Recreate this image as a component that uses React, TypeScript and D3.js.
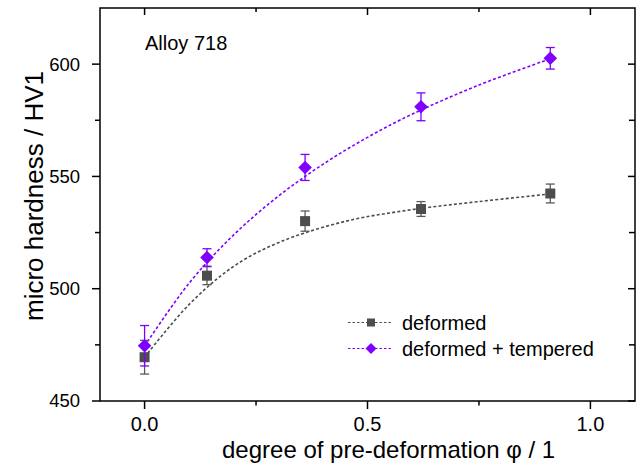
import React from "react";
import * as d3 from "d3";

// Measured micro hardness (HV1) against degree of pre-deformation
const strain = [0, 0.14, 0.36, 0.62, 0.91];
const hvDeformed = [469.5, 505.8, 530.1, 535.5, 542.4];
const errDeformed = [7.5, 4.0, 4.5, 3.3, 4.2];
const hvTempered = [474.6, 513.9, 554.0, 581.0, 602.6];
const errTempered = [9.0, 3.9, 5.8, 6.2, 4.8];

// Fitted trend curves (sampled)
const fitDeformedX = [0, 0.1, 0.2, 0.3, 0.45, 0.6, 0.75, 0.91];
const fitDeformedY = [469.5, 493, 510, 520.5, 530, 535.2, 538.8, 542.2];
const fitTemperedX = [0, 0.1, 0.2, 0.3, 0.4, 0.5, 0.6, 0.75, 0.91];
const fitTemperedY = [474.5, 502.5, 524, 541.2, 555.4, 567.4, 577.7, 590.7, 602.4];

const xMajor = [0, 0.5, 1.0];
const xMinor = [0.25, 0.75];
const yMajor = [450, 500, 550, 600];
const yMinor = [475, 525, 575];

const seriesNames = ["deformed", "deformed + tempered"];

const GREY = "#4d4d4d";
const PURPLE = "#7f00ff";
const FONT = "'Liberation Sans', Arial, sans-serif";

export default function App() {
  const W = 644;
  const H = 472;
  const left = 100, right = 635, top = 8, bottom = 401;

  const x = d3.scaleLinear().domain([-0.1, 1.1]).range([left, right]);
  const y = d3.scaleLinear().domain([450, 625]).range([bottom, top]);

  const line = d3
    .line<[number, number]>()
    .x((d) => x(d[0]))
    .y((d) => y(d[1]))
    .curve(d3.curveCatmullRom.alpha(0.5));

  const fitD = line(fitDeformedX.map((v, i) => [v, fitDeformedY[i]]) as [number, number][]) || "";
  const fitT = line(fitTemperedX.map((v, i) => [v, fitTemperedY[i]]) as [number, number][]) || "";

  const fmtX = d3.format(".1f");
  const sq = 10;
  const dia = 6.8;
  const cap = 4.5;

  const errorBars = (vals: number[], errs: number[], color: string) =>
    strain.map((s, i) => {
      const cx = x(s);
      const y1 = y(vals[i] + errs[i]);
      const y2 = y(vals[i] - errs[i]);
      return (
        <g key={i} stroke={color} strokeWidth={1.3}>
          <line x1={cx} x2={cx} y1={y1} y2={y2} />
          <line x1={cx - cap} x2={cx + cap} y1={y1} y2={y1} />
          <line x1={cx - cap} x2={cx + cap} y1={y2} y2={y2} />
        </g>
      );
    });

  const diamond = (cx: number, cy: number, r: number) =>
    `M${cx},${cy - r}L${cx + r},${cy}L${cx},${cy + r}L${cx - r},${cy}Z`;

  const legendY = [322.5, 348.5];
  const legX1 = 348, legX2 = 392, legMid = 371;

  return (
    <svg
      width={W}
      height={H}
      style={{ position: "absolute", left: 0, top: 0, background: "#fff" }}
      fontFamily={FONT}
    >
      <rect x={0} y={0} width={W} height={H} fill="#fff" />

      {/* fit curves */}
      <path d={fitD} fill="none" stroke={GREY} strokeWidth={1.6} strokeDasharray="3,2.2" />
      <path d={fitT} fill="none" stroke={PURPLE} strokeWidth={1.6} strokeDasharray="3,2.2" />

      {/* deformed */}
      {errorBars(hvDeformed, errDeformed, "#5a5a5a")}
      {strain.map((s, i) => (
        <rect
          key={"d" + i}
          x={x(s) - sq / 2}
          y={y(hvDeformed[i]) - sq / 2}
          width={sq}
          height={sq}
          fill={GREY}
        />
      ))}

      {/* deformed + tempered */}
      {errorBars(hvTempered, errTempered, PURPLE)}
      {strain.map((s, i) => (
        <path key={"t" + i} d={diamond(x(s), y(hvTempered[i]), dia)} fill={PURPLE} />
      ))}

      {/* frame */}
      <rect
        x={left}
        y={top}
        width={right - left}
        height={bottom - top}
        fill="none"
        stroke="#000"
        strokeWidth={1.5}
      />

      {/* x ticks: bottom outward, top inward */}
      {xMajor.map((v) => (
        <g key={"xm" + v} stroke="#000" strokeWidth={1.5}>
          <line x1={x(v)} x2={x(v)} y1={bottom} y2={bottom + 8} />
          <line x1={x(v)} x2={x(v)} y1={top} y2={top + 7} />
        </g>
      ))}
      {xMinor.map((v) => (
        <g key={"xn" + v} stroke="#000" strokeWidth={1.5}>
          <line x1={x(v)} x2={x(v)} y1={bottom} y2={bottom + 4.5} />
          <line x1={x(v)} x2={x(v)} y1={top} y2={top + 4} />
        </g>
      ))}
      {xMajor.map((v) => (
        <text key={"xl" + v} x={x(v)} y={431} textAnchor="middle" fontSize={20} fill="#000">
          {fmtX(v)}
        </text>
      ))}

      {/* y ticks: left outward, right inward */}
      {yMajor.map((v) => (
        <g key={"ym" + v} stroke="#000" strokeWidth={1.5}>
          <line x1={left - 8} x2={left} y1={y(v)} y2={y(v)} />
          <line x1={right - 7} x2={right} y1={y(v)} y2={y(v)} />
        </g>
      ))}
      {yMinor.map((v) => (
        <g key={"yn" + v} stroke="#000" strokeWidth={1.5}>
          <line x1={left - 5} x2={left} y1={y(v)} y2={y(v)} />
          <line x1={right - 6} x2={right} y1={y(v)} y2={y(v)} />
        </g>
      ))}
      {yMajor.map((v) => (
        <text
          key={"yl" + v}
          x={80}
          y={y(v)}
          dy="0.35em"
          textAnchor="end"
          fontSize={18.5}
          fill="#000"
        >
          {v}
        </text>
      ))}

      {/* axis titles */}
      <text x={222} y={458} fontSize={24} fill="#000">
        degree of pre-deformation φ / 1
      </text>
      <text
        transform={`translate(43,196) rotate(-90)`}
        textAnchor="middle"
        fontSize={26}
        fill="#000"
      >
        micro hardness / HV1
      </text>

      <text x={145} y={50} fontSize={20} fill="#000">
        Alloy 718
      </text>

      {/* legend */}
      <g>
        <line x1={legX1} x2={legX2} y1={legendY[0]} y2={legendY[0]} stroke={GREY} strokeWidth={1.2} strokeDasharray="2.5,2" />
        <rect x={legMid - 4} y={legendY[0] - 4} width={8} height={8} fill={GREY} />
        <text x={402} y={legendY[0]} dy="0.35em" fontSize={20} fill="#000">
          {seriesNames[0]}
        </text>
        <line x1={legX1} x2={legX2} y1={legendY[1]} y2={legendY[1]} stroke={PURPLE} strokeWidth={1.2} strokeDasharray="2.5,2" />
        <path d={diamond(legMid, legendY[1], 5.5)} fill={PURPLE} />
        <text x={402} y={legendY[1]} dy="0.35em" fontSize={20} fill="#000">
          {seriesNames[1]}
        </text>
      </g>
    </svg>
  );
}
